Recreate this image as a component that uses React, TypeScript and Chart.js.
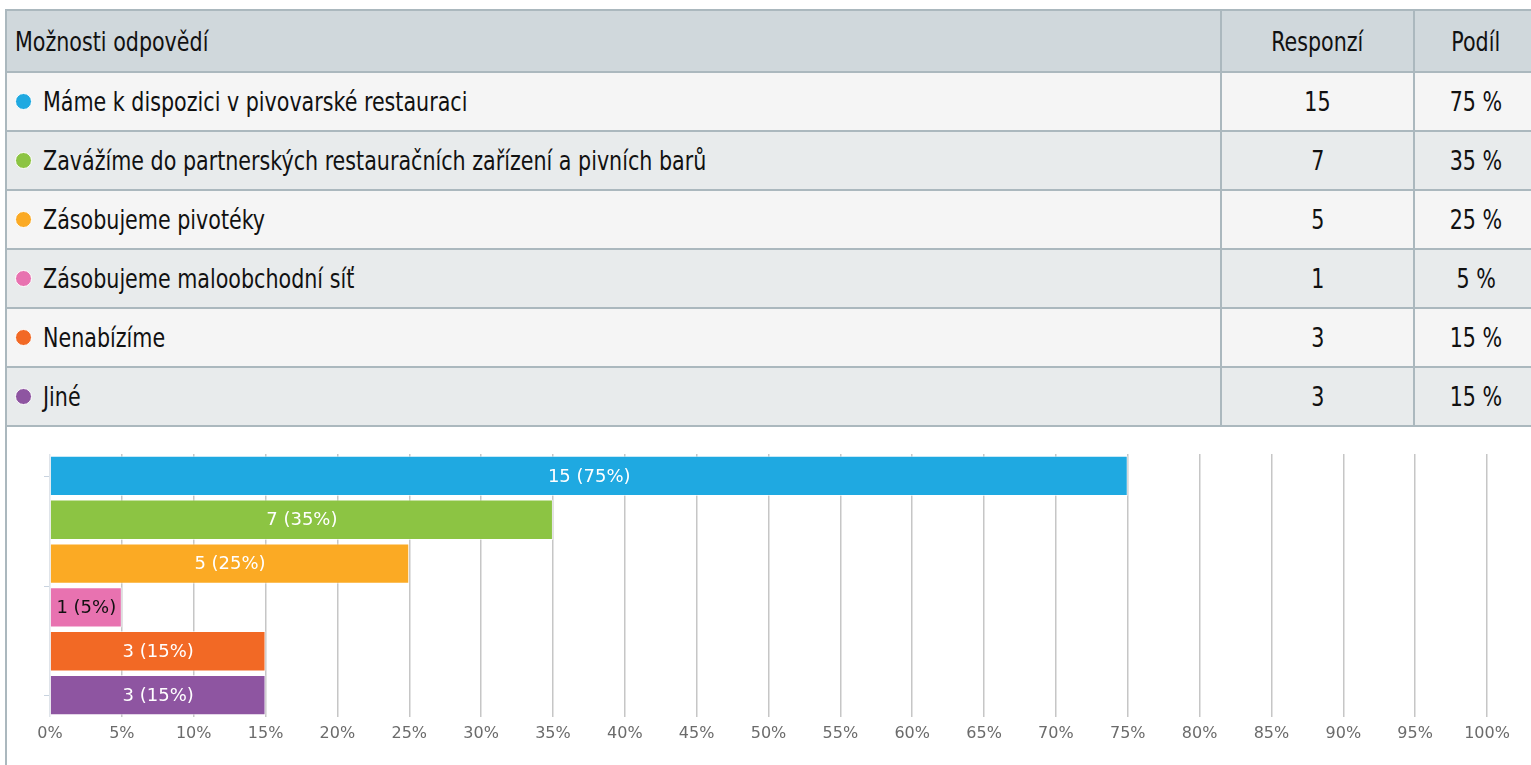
import React, { useEffect, useRef } from "react";
import { Chart, registerables } from "chart.js";

Chart.register(...registerables);

const headerLabels = ["Možnosti odpovědí", "Responzí", "Podíl"];
const categories = [
  "Máme k dispozici v pivovarské restauraci",
  "Zavážíme do partnerských restauračních zařízení a pivních barů",
  "Zásobujeme pivotéky",
  "Zásobujeme maloobchodní síť",
  "Nenabízíme",
  "Jiné",
];
const responses = [15, 7, 5, 1, 3, 3];
const shares = [75, 35, 25, 5, 15, 15];
const xMin = 0;
const xMax = 100;
const xStep = 5;

const barColors = ["#1fa9e1", "#8cc443", "#fbaa24", "#e872b0", "#f26925", "#8e55a1"];
const barLabelColors = ["#ffffff", "#ffffff", "#ffffff", "#111111", "#ffffff", "#ffffff"];

const BORDER = "2px solid #abb8be";
const TABLE_FONT = '"Liberation Sans Narrow", "DejaVu Sans Condensed", "Noto Sans", sans-serif';
const CHART_FONT = '"DejaVu Sans", Verdana, sans-serif';

const barLabelPlugin = {
  id: "barLabels",
  afterDatasetsDraw(chart: any) {
    const ctx = chart.ctx;
    const meta = chart.getDatasetMeta(0);
    ctx.save();
    ctx.font = `18px ${CHART_FONT}`;
    ctx.textAlign = "center";
    ctx.textBaseline = "middle";
    meta.data.forEach((bar: any, i: number) => {
      const { x, y, base } = bar.getProps(["x", "y", "base"], true);
      ctx.fillStyle = barLabelColors[i];
      ctx.fillText(`${responses[i]} (${shares[i]}%)`, (x + base) / 2, y + 1);
    });
    ctx.restore();
  },
};

// small tick marks on the left edge of the category axis
const yMarksPlugin = {
  id: "yMarks",
  afterDraw(chart: any) {
    const ctx = chart.ctx;
    const y = chart.scales.y;
    const left = chart.chartArea.left;
    const n = categories.length;
    const marks = [
      y.getPixelForValue(0),
      (y.getPixelForValue(Math.floor(n / 2) - 1) + y.getPixelForValue(Math.floor(n / 2))) / 2,
      y.getPixelForValue(n - 1),
    ];
    ctx.save();
    ctx.strokeStyle = "#c8d3df";
    ctx.lineWidth = 1;
    marks.forEach((p: number) => {
      const py = Math.round(p) + 0.5;
      ctx.beginPath();
      ctx.moveTo(left - 6, py);
      ctx.lineTo(left - 1, py);
      ctx.stroke();
    });
    ctx.restore();
  },
};

function BarChart() {
  const ref = useRef<HTMLCanvasElement | null>(null);
  useEffect(() => {
    if (!ref.current) return;
    const chart = new Chart(ref.current, {
      type: "bar",
      data: {
        labels: categories,
        datasets: [
          {
            data: shares,
            backgroundColor: barColors,
            borderColor: "rgba(255,255,255,0.6)",
            borderWidth: 1,
            barPercentage: 0.92,
            categoryPercentage: 1,
          },
        ],
      },
      options: {
        indexAxis: "y",
        animation: false,
        responsive: true,
        maintainAspectRatio: false,
        layout: { padding: { left: 43, right: 44, top: 27, bottom: 18 } },
        plugins: { legend: { display: false }, tooltip: { enabled: false } },
        scales: {
          x: {
            type: "linear",
            min: xMin,
            max: xMax,
            position: "bottom",
            ticks: {
              stepSize: xStep,
              callback: (v: any) => `${v}%`,
              color: "#6b6b6b",
              font: { family: CHART_FONT, size: 16 },
              padding: 7,
              maxRotation: 0,
              autoSkip: false,
            },
            grid: {
              color: (c: any) => (c.tick && c.tick.value === 0 ? "#dfe4ea" : "#c6c6c6"),
              lineWidth: 1.5,
              drawTicks: false,
            },
            border: { display: false },
            afterFit: (axis: any) => {
              axis.height = 30;
            },
          },
          y: {
            type: "category",
            display: false,
            offset: true,
          },
        },
      },
      plugins: [barLabelPlugin, yMarksPlugin],
    } as any);
    return () => chart.destroy();
  }, []);
  return <canvas ref={ref} />;
}

const cellBase: React.CSSProperties = {
  boxSizing: "border-box",
  borderRight: BORDER,
  borderBottom: BORDER,
  display: "flex",
  alignItems: "center",
  height: "100%",
  fontSize: 27,
  overflow: "hidden",
  whiteSpace: "nowrap",
};

const narrow = (origin: string): React.CSSProperties => ({
  display: "inline-block",
  transform: "scaleX(0.85)",
  transformOrigin: origin,
});

export default function App() {
  const widths = [1217, 193, 124];
  return (
    <div
      style={{
        position: "absolute",
        left: 5,
        top: 9,
        width: 1526,
        height: 756,
        overflow: "hidden",
        fontFamily: TABLE_FONT,
        color: "#111111",
      }}
    >
      <div style={{ width: 1535, borderTop: BORDER, borderLeft: BORDER, boxSizing: "border-box" }}>
        <div style={{ display: "flex", height: 62, background: "#d0d8dc" }}>
          {headerLabels.map((h, i) => (
            <div
              key={i}
              style={{
                ...cellBase,
                width: widths[i] - (i === 0 ? 2 : 0),
                justifyContent: i === 0 ? "flex-start" : "center",
                paddingLeft: i === 0 ? 8 : 0,
              }}
            >
              <span style={narrow(i === 0 ? "left center" : "center")}>{h}</span>
            </div>
          ))}
        </div>
        {categories.map((c, r) => (
          <div key={r} style={{ display: "flex", height: 59, background: r % 2 === 0 ? "#f5f5f5" : "#e8ebec" }}>
            <div style={{ ...cellBase, width: widths[0] - 2, paddingLeft: 8 }}>
              <span
                style={{
                  display: "inline-block",
                  width: 15,
                  height: 15,
                  borderRadius: "50%",
                  background: barColors[r],
                  border: "1px solid #ffffff",
                  marginRight: 11,
                  flex: "none",
                }}
              />
              <span style={narrow("left center")}>{c}</span>
            </div>
            <div style={{ ...cellBase, width: widths[1], justifyContent: "center" }}>
              <span style={narrow("center")}>{responses[r]}</span>
            </div>
            <div style={{ ...cellBase, width: widths[2], justifyContent: "center" }}>
              <span style={narrow("center")}>{shares[r]} %</span>
            </div>
          </div>
        ))}
        <div style={{ position: "relative", height: 338, width: 1524 }}>
          <BarChart />
        </div>
      </div>
    </div>
  );
}
